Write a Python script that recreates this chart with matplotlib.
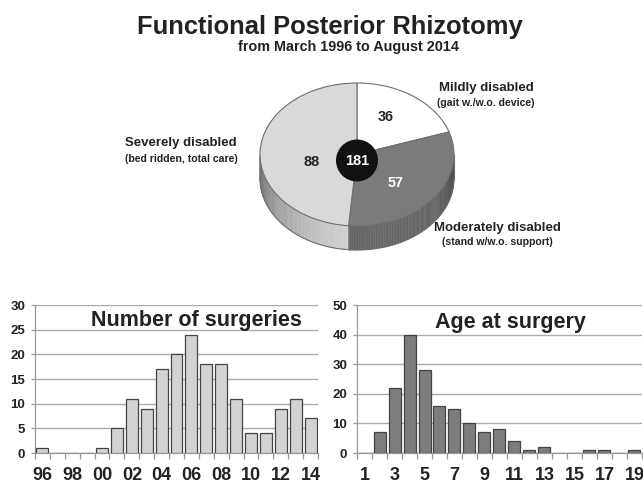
import numpy as np
import matplotlib
matplotlib.use('Agg')
import matplotlib.pyplot as plt
from matplotlib.patches import Polygon, Ellipse

plt.rcParams['font.family'] = ['Liberation Sans', 'DejaVu Sans']
plt.rcParams['font.weight'] = 'bold'

# data
pie_labels = ['Mildly disabled', 'Moderately disabled', 'Severely disabled']
pie_notes = ['(gait w./w.o. device)', '(stand w/w.o. support)', '(bed ridden, total care)']
pie_values = [36, 57, 88]
pie_total = 181

years = ['96', '97', '98', '99', '00', '01', '02', '03', '04', '05',
         '06', '07', '08', '09', '10', '11', '12', '13', '14']
surgeries = [1, 0, 0, 0, 1, 5, 11, 9, 17, 20, 24, 18, 18, 11, 4, 4, 9, 11, 7]

ages = [str(a) for a in range(1, 20)]
age_counts = [0, 7, 22, 40, 28, 16, 15, 10, 7, 8, 4, 1, 2, 0, 0, 1, 1, 0, 1]

W, H = 643, 486
fig = plt.figure(figsize=(W / 100, H / 100), dpi=100)


def px(x, y):
    # pixel (from top-left) -> figure fraction
    return x / W, 1 - y / H


def box(x0, y0, x1, y1):
    return [x0 / W, 1 - y1 / H, (x1 - x0) / W, (y1 - y0) / H]


# ---- titles
fig.text(*px(330, 34), 'Functional Posterior Rhizotomy', ha='center', va='baseline',
         fontsize=18.4, color='#222222')
fig.text(*px(348, 51), 'from March 1996 to August 2014', ha='center', va='baseline',
         fontsize=10.4, color='#222222')

# ---- 3D pie
cx, cy, a, b = 357, 154.5, 97, 71.5
thick = 24 / b
pad = 1.1
pax = fig.add_axes(box(cx - pad * a, cy - pad * b, cx + pad * a, cy + (pad + thick) * b))
top_colors = ['#ffffff', '#7b7b7b', '#d9d9d9']
side_base = [0.95, 0.40, 0.85]

wedges, _ = pax.pie(pie_values, colors=top_colors, startangle=90, counterclock=False,
                    radius=1, wedgeprops=dict(edgecolor='#6e6e6e', linewidth=0.8))
for w in wedges:
    w.set_zorder(3)

# wedge angle ranges (math degrees, decreasing clockwise from 90)
frac = np.cumsum([0] + pie_values) / sum(pie_values)
bounds = 90 - 360 * frac


def wedge_index(theta):
    for i in range(len(pie_values)):
        hi, lo = bounds[i], bounds[i + 1]
        tt = theta
        while tt > hi:
            tt -= 360
        while tt < lo:
            tt += 360
        if lo <= tt <= hi:
            return i
    return 0


step = 1.0
for th in np.arange(180, 360, step):
    t1, t2 = np.radians(th), np.radians(th + step)
    mid = th + step / 2
    i = wedge_index(mid)
    shade = side_base[i] * (0.62 + 0.38 * np.cos(np.radians(mid - 290)))
    shade = min(max(shade, 0), 1)
    poly = Polygon([(np.cos(t1), np.sin(t1)), (np.cos(t2), np.sin(t2)),
                    (np.cos(t2), np.sin(t2) - thick), (np.cos(t1), np.sin(t1) - thick)],
                   closed=True, facecolor=(shade, shade, shade), edgecolor=(shade, shade, shade),
                   linewidth=0.3, zorder=1)
    pax.add_patch(poly)

arc = np.radians(np.linspace(180, 360, 200))
pax.plot(np.cos(arc), np.sin(arc) - thick, color='#6e6e6e', lw=0.8, zorder=2)
for ang in [180, 360] + [bd % 360 for bd in bounds[1:-1] if 180 < bd % 360 < 360]:
    r = np.radians(ang)
    pax.plot([np.cos(r), np.cos(r)], [np.sin(r), np.sin(r) - thick], color='#6e6e6e',
             lw=0.8, zorder=2)

pax.add_patch(Ellipse((0, -6 / b), 2 * 21 / a, 2 * 21 / b, facecolor='#111111',
                      edgecolor='none', zorder=5))
pax.text(0, -6 / b, str(pie_total), ha='center', va='center', color='white',
         fontsize=10.5, zorder=6)

num_pos = [(386, 117), (396, 183), (312, 162)]
num_col = ['#222222', '#ffffff', '#222222']
for v, (x, y), c in zip(pie_values, num_pos, num_col):
    pax.text((x - cx) / a, (cy - y) / b, str(v), ha='center', va='center',
             fontsize=10.4, color=c, zorder=6)

pax.set_aspect('auto')
pax.set_xlim(-pad, pad)
pax.set_ylim(-pad - thick, pad)
pax.axis('off')

lab_pos = [(486, 88, 103), (497, 228, 242), (181, 143, 159)]
for name, note, (x, y1, y2) in zip(pie_labels, pie_notes, lab_pos):
    fig.text(*px(x, y1), name, ha='center', va='center', fontsize=9.5, color='#222222')
    fig.text(*px(x, y2), note, ha='center', va='center', fontsize=7.6, color='#222222')


# ---- bar charts
def bar_panel(rect, labels, counts, ymax, ystep, color, title, tx, ty):
    ax = fig.add_axes(rect)
    x = np.arange(len(counts))
    ax.bar(x, counts, width=0.8, color=color, edgecolor='#444444', linewidth=0.9, zorder=3)
    ax.set_xlim(-0.5, len(counts) - 0.5)
    ax.set_ylim(0, ymax)
    ax.set_yticks(np.arange(0, ymax + 1, ystep))
    ax.set_xticks(x[::2])
    ax.set_xticklabels(labels[::2], fontsize=13, color='#222222')
    ax.set_xticks(np.arange(-0.5, len(counts), 1), minor=True)
    ax.tick_params(axis='x', which='major', length=0, pad=10)
    ax.tick_params(axis='x', which='minor', length=4, color='#999999', width=0.9)
    ax.tick_params(axis='y', length=3, color='#999999', width=0.9, pad=4, labelsize=9.5,
                   labelcolor='#222222')
    ax.grid(axis='y', color='#aaaaaa', lw=1, zorder=0)
    for s in ['top', 'right']:
        ax.spines[s].set_visible(False)
    for s in ['left', 'bottom']:
        ax.spines[s].set_color('#999999')
        ax.spines[s].set_linewidth(0.9)
    ax.text(tx, ty, title, transform=ax.transAxes, ha='center', va='center',
            fontsize=15.5, color='#222222', zorder=5)
    return ax


bar_panel(box(35, 305, 318, 453), years, surgeries, 30, 5, '#d3d3d3',
          'Number of surgeries', 0.572, 0.895)
bar_panel(box(357, 305, 642, 453), ages, age_counts, 50, 10, '#7d7d7d',
          'Age at surgery', 0.537, 0.885)

fig.savefig('out.png', dpi=100)
